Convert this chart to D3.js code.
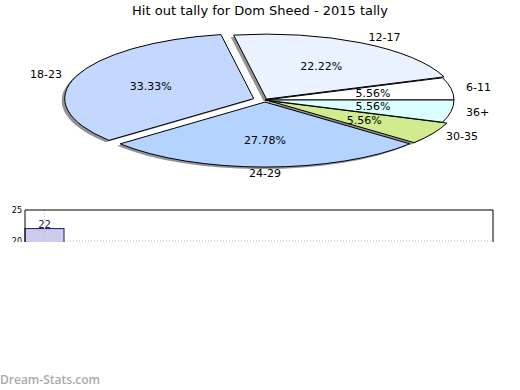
<!DOCTYPE html>
<html>
<head>
<meta charset="utf-8">
<script src="https://cdn.jsdelivr.net/npm/d3@7"></script>
<style>
  body { margin: 0; background: #fff; }
  text { font-family: "DejaVu Sans", sans-serif; }
</style>
</head>
<body>
<script>
var w = 520;
var h = 390;

// pie data, counter-clockwise from 3 o'clock
var categories = ["6-11", "12-17", "18-23", "24-29", "30-35", "36+"];
var hitouts = [1, 4, 6, 5, 1, 1];
var sliceColors = ["#ffffff", "#eaf1ff", "#c4d8ff", "#b4d4ff", "#d0ec8e", "#dcffff"];
var explode = [0, 3, 12, 6, 5, 0];

// partial bar chart underneath
var barValues = [22];
var barSlots = d3.range(12);
var yTicks = [20, 25];

var svg = d3.select("body").append("svg")
    .attr("width", w)
    .attr("height", h)
    .style("background-color", "white");

svg.append("text")
    .attr("x", w / 2)
    .attr("y", 15)
    .attr("text-anchor", "middle")
    .style("font-size", "13px")
    .text("Hit out tally for Dom Sheed - 2015 tally");

var cx = 265, cy = 100, rx = 189, ry = 65;
var squash = ry / rx;

var pie = d3.pie().sort(null).value(d => d)
    .startAngle(Math.PI / 2)
    .endAngle(Math.PI / 2 - 2 * Math.PI);
var slices = pie(hitouts);
var total = d3.sum(hitouts);
var arc = d3.arc().innerRadius(0).outerRadius(rx);

function offset(d, i) {
  var mid = (d.startAngle + d.endAngle) / 2;
  return [Math.sin(mid) * explode[i], -Math.cos(mid) * explode[i] * squash];
}
function ellPoint(d, i, k) {
  var mid = (d.startAngle + d.endAngle) / 2;
  var o = offset(d, i);
  return [cx + o[0] + Math.sin(mid) * rx * k, cy + o[1] - Math.cos(mid) * ry * k];
}

// shadows first
svg.append("g").selectAll("path")
  .data(slices)
  .join("path")
    .attr("transform", (d, i) => {
      var o = offset(d, i);
      return "translate(" + (cx + o[0] - 3) + "," + (cy + o[1] + 2) + ")scale(1," + squash + ")";
    })
    .attr("d", arc)
    .attr("fill", "#939393");

svg.append("g").selectAll("path")
  .data(slices)
  .join("path")
    .attr("transform", (d, i) => {
      var o = offset(d, i);
      return "translate(" + (cx + o[0]) + "," + (cy + o[1]) + ")scale(1," + squash + ")";
    })
    .attr("d", arc)
    .attr("fill", (d, i) => sliceColors[i])
    .attr("stroke", "black")
    .attr("stroke-width", 1)
    .attr("vector-effect", "non-scaling-stroke");

// percentages inside
svg.append("g").selectAll("text")
  .data(slices)
  .join("text")
    .attr("x", (d, i) => ellPoint(d, i, 0.58)[0])
    .attr("y", (d, i) => ellPoint(d, i, 0.58)[1])
    .attr("dy", "0.35em")
    .attr("text-anchor", "middle")
    .style("font-size", "11px")
    .text(d => (d.value / total * 100).toFixed(2) + "%");

// category labels outside
svg.append("g").selectAll("text")
  .data(slices)
  .join("text")
    .attr("x", (d, i) => ellPoint(d, i, 1.08)[0])
    .attr("y", (d, i) => ellPoint(d, i, 1.1)[1])
    .attr("dy", "0.35em")
    .attr("text-anchor", d => {
      var s = Math.sin((d.startAngle + d.endAngle) / 2);
      return s > 0.2 ? "start" : (s < -0.2 ? "end" : "middle");
    })
    .style("font-size", "11px")
    .text((d, i) => categories[i]);

// bar chart (cut off at the bottom of the image)
var plotL = 25, plotR = 493, plotT = 210;
var y = d3.scaleLinear().domain([20, 25]).range([241, plotT]);
var x = d3.scaleBand().domain(barSlots).range([plotL, plotR]);

svg.append("clipPath").attr("id", "cut")
  .append("rect").attr("x", 0).attr("y", 200).attr("width", w).attr("height", 42);

var bars = svg.append("g").attr("clip-path", "url(#cut)");

bars.append("line")
    .attr("x1", plotL).attr("x2", plotR)
    .attr("y1", y(20)).attr("y2", y(20))
    .attr("stroke", "#bbb")
    .attr("stroke-dasharray", "1,2");

bars.selectAll("rect.bar")
  .data(barValues)
  .join("rect")
    .attr("class", "bar")
    .attr("x", (d, i) => x(i))
    .attr("y", d => y(d))
    .attr("width", x.bandwidth())
    .attr("height", d => y(0) - y(d))
    .attr("fill", "#ccccee")
    .attr("stroke", "#1a1a5e");

bars.selectAll("line.vgrid")
  .data(barValues)
  .join("line")
    .attr("class", "vgrid")
    .attr("x1", (d, i) => x(i) + x.bandwidth() / 2)
    .attr("x2", (d, i) => x(i) + x.bandwidth() / 2)
    .attr("y1", plotT).attr("y2", 260)
    .attr("stroke", "#bbb")
    .attr("stroke-dasharray", "1,2");

bars.selectAll("text.val")
  .data(barValues)
  .join("text")
    .attr("class", "val")
    .attr("x", (d, i) => x(i) + x.bandwidth() / 2)
    .attr("y", d => y(d) - 1)
    .attr("text-anchor", "middle")
    .style("font-size", "10px")
    .style("fill", "#1a1a5e")
    .text(d => d);

bars.append("path")
    .attr("d", "M" + plotL + ",260V" + plotT + "H" + plotR + "V260")
    .attr("fill", "none")
    .attr("stroke", "black");

bars.selectAll("text.tick")
  .data(yTicks)
  .join("text")
    .attr("class", "tick")
    .attr("x", plotL - 3)
    .attr("y", d => y(d))
    .attr("dy", "0.35em")
    .attr("text-anchor", "end")
    .style("font-size", "8px")
    .text(d => d);

svg.append("text")
    .attr("x", 0)
    .attr("y", 384)
    .style("font-size", "12px")
    .style("font-family", "'Open Sans', sans-serif")
    .style("font-weight", "600")
    .style("fill", "#aaa")
    .text("Dream-Stats.com");
</script>
</body>
</html>
